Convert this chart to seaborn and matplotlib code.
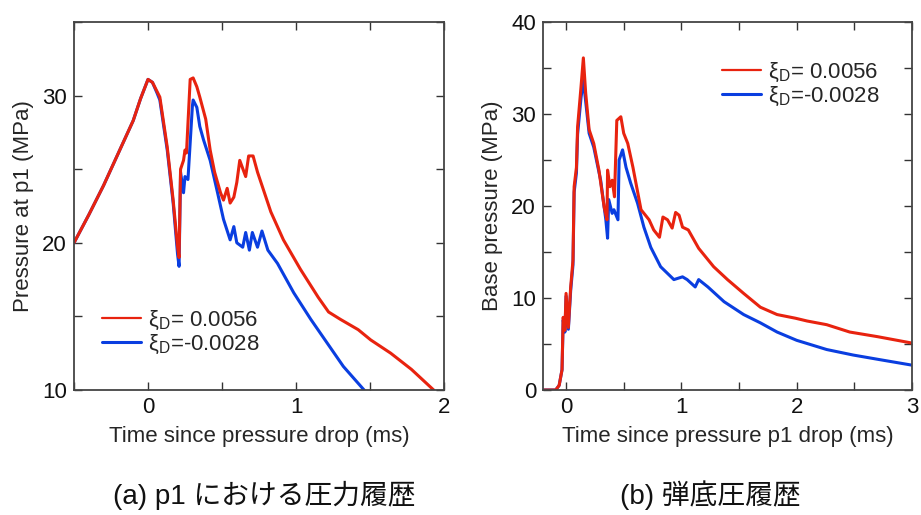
import matplotlib
matplotlib.use("Agg")
import matplotlib.pyplot as plt
import seaborn as sns
from matplotlib.ticker import MultipleLocator
from matplotlib.lines import Line2D

# (a) pressure at gauge p1, xi_D = 0.0056
p1_time_hi = [-0.5, -0.4, -0.3, -0.2, -0.1, -0.05, 0.0, 0.03, 0.06, 0.08, 0.13, 0.17,
              0.20, 0.21, 0.22, 0.24, 0.25, 0.26, 0.285, 0.305, 0.33, 0.35, 0.39, 0.42,
              0.45, 0.49, 0.51, 0.535, 0.555, 0.58, 0.60, 0.62, 0.66, 0.68, 0.71, 0.74,
              0.78, 0.83, 0.915, 1.03, 1.15, 1.22, 1.30, 1.42, 1.505, 1.64, 1.78, 1.93]
p1_pres_hi = [20.0, 21.9, 23.9, 26.1, 28.3, 29.8, 31.1, 30.9, 30.3, 29.9, 26.5, 22.9,
              19.7, 19.0, 25.0, 25.6, 26.3, 26.1, 31.1, 31.2, 30.6, 29.9, 28.4, 26.3,
              24.8, 23.4, 22.9, 23.7, 22.7, 23.1, 24.1, 25.6, 24.5, 25.9, 25.9, 24.8,
              23.6, 22.1, 20.2, 18.2, 16.3, 15.3, 14.8, 14.1, 13.4, 12.5, 11.4, 10.0]

# (a) pressure at gauge p1, xi_D = -0.0028
p1_time_lo = [-0.5, -0.4, -0.3, -0.2, -0.1, -0.05, 0.0, 0.03, 0.06, 0.08, 0.13, 0.17,
              0.20, 0.21, 0.22, 0.24, 0.25, 0.27, 0.30, 0.305, 0.33, 0.35, 0.375, 0.42,
              0.47, 0.51, 0.555, 0.58, 0.60, 0.64, 0.66, 0.685, 0.705, 0.74, 0.77, 0.81,
              0.875, 0.985, 1.10, 1.21, 1.32, 1.46]
p1_pres_lo = [20.0, 21.9, 23.9, 26.1, 28.3, 29.8, 31.1, 30.9, 30.2, 29.7, 26.3, 22.7,
              19.2, 18.4, 24.8, 23.4, 24.5, 24.3, 29.3, 29.7, 29.2, 27.9, 27.0, 25.6,
              23.4, 21.6, 20.2, 21.1, 20.0, 19.7, 20.7, 19.5, 20.7, 19.7, 20.8, 19.5,
              18.6, 16.6, 14.8, 13.2, 11.6, 10.0]

# (b) base pressure, xi_D = 0.0056
base_time_hi = [-0.19, -0.09, -0.06, -0.035, -0.025, -0.01, 0.0, 0.02, 0.04, 0.06, 0.07,
                0.09, 0.10, 0.13, 0.15, 0.17, 0.20, 0.24, 0.285, 0.33, 0.355, 0.36, 0.38,
                0.40, 0.42, 0.44, 0.475, 0.50, 0.535, 0.58, 0.65, 0.72, 0.76, 0.81, 0.84,
                0.88, 0.92, 0.95, 0.98, 1.01, 1.06, 1.15, 1.28, 1.40, 1.54, 1.685, 1.83,
                1.99, 2.09, 2.26, 2.46, 2.70, 3.0]
base_pres_hi = [0.0, 0.0, 0.5, 2.2, 7.9, 6.5, 10.5, 6.8, 11.2, 14.1, 22.1,
                24.2, 28.6, 33.0, 36.1, 32.3, 28.3, 26.8, 23.9, 19.9, 18.5, 23.9, 22.1,
                22.8, 21.0, 29.3, 29.7, 27.9, 26.8, 24.2, 19.6, 18.5, 17.4, 16.6, 18.8,
                18.5, 17.6, 19.3, 19.0, 17.7, 17.4, 15.4, 13.4, 12.0, 10.5, 9.0, 8.2,
                7.8, 7.5, 7.1, 6.3, 5.8, 5.1]

# (b) base pressure, xi_D = -0.0028
base_time_lo = [-0.19, -0.09, -0.06, -0.035, -0.025, -0.01, 0.0, 0.02, 0.04, 0.06, 0.07,
                0.09, 0.10, 0.13, 0.15, 0.20, 0.24, 0.30, 0.345, 0.36, 0.37, 0.40, 0.415,
                0.45, 0.46, 0.49, 0.52, 0.56, 0.62, 0.675, 0.735, 0.82, 0.935, 1.01, 1.05,
                1.12, 1.15, 1.23, 1.37, 1.54, 1.685, 1.83, 2.0, 2.26, 2.49, 2.72, 3.0]
base_pres_lo = [0.0, 0.0, 0.5, 2.2, 7.6, 6.3, 10.2, 6.6, 10.8, 13.6, 21.5,
                23.6, 27.8, 31.8, 33.7, 27.9, 26.4, 22.8, 18.5, 16.5, 20.7, 19.2, 19.6,
                18.5, 25.0, 26.1, 24.2, 22.5, 20.3, 17.7, 15.5, 13.4, 12.0, 12.3, 12.0,
                11.2, 12.0, 11.2, 9.6, 8.2, 7.3, 6.3, 5.4, 4.4, 3.8, 3.3, 2.7]

series_labels = ["ξ$_\\mathrm{D}$= 0.0056", "ξ$_\\mathrm{D}$=-0.0028"]
series_colors = ["#e8230f", "#0a3ee0"]

sns.set_theme(style="ticks")
plt.rcParams["font.family"] = ["Liberation Sans", "Noto Sans CJK JP", "DejaVu Sans"]
plt.rcParams["mathtext.fontset"] = "custom"
plt.rcParams["mathtext.rm"] = "Liberation Sans"

fig = plt.figure(figsize=(9.21, 5.15), dpi=100)
ax_a = fig.add_axes([74 / 921, 125 / 515, 370 / 921, 368 / 515])
ax_b = fig.add_axes([543 / 921, 125 / 515, 369 / 921, 368 / 515])

lw = 2.2
for ax, (t_hi, p_hi, t_lo, p_lo) in (
    (ax_a, (p1_time_hi, p1_pres_hi, p1_time_lo, p1_pres_lo)),
    (ax_b, (base_time_hi, base_pres_hi, base_time_lo, base_pres_lo)),
):
    sns.lineplot(x=t_lo, y=p_lo, ax=ax, color=series_colors[1], lw=lw,
                 estimator=None, sort=False)
    sns.lineplot(x=t_hi, y=p_hi, ax=ax, color=series_colors[0], lw=lw,
                 estimator=None, sort=False)

ax_a.set_xlim(-0.5, 2)
ax_a.set_ylim(10, 35)
ax_a.yaxis.set_major_locator(MultipleLocator(10))
ax_a.yaxis.set_minor_locator(MultipleLocator(5))
ax_a.set_xlabel("Time since pressure drop (ms)")
ax_a.set_ylabel("Pressure at p1 (MPa)")

ax_b.set_xlim(-0.2, 3)
ax_b.set_ylim(0, 40)
ax_b.yaxis.set_major_locator(MultipleLocator(10))
ax_b.yaxis.set_minor_locator(MultipleLocator(5))
ax_b.set_xlabel("Time since pressure p1 drop (ms)")
ax_b.set_ylabel("Base pressure (MPa)")

handles = [Line2D([], [], color=series_colors[0], lw=1.6),
           Line2D([], [], color=series_colors[1], lw=2.2)]

for ax, anchor in ((ax_a, (0.076, 0.157)), (ax_b, (0.485, 0.83))):
    ax.xaxis.set_major_locator(MultipleLocator(1))
    ax.xaxis.set_minor_locator(MultipleLocator(0.5))
    ax.tick_params(which="both", direction="in", top=True, right=True,
                   length=6, width=1.0, color="#333333", labelsize=16, pad=5,
                   labelcolor="#111111")
    for sp in ax.spines.values():
        sp.set_visible(True)
        sp.set_color("#444444")
        sp.set_linewidth(1.3)
    ax.xaxis.label.set_size(16)
    ax.yaxis.label.set_size(16)
    ax.xaxis.labelpad = 6
    ax.yaxis.labelpad = 6
    ax.legend(handles, series_labels, loc="center left", bbox_to_anchor=anchor,
              frameon=False, fontsize=16, handlelength=1.75, handletextpad=0.3,
              labelspacing=0.05, borderpad=0, borderaxespad=0)

fig.text(264 / 921, 20 / 515, "(a) p1 における圧力履歴", ha="center", va="center",
         fontsize=20, color="#111111")
fig.text(710 / 921, 20 / 515, "(b) 弾底圧履歴", ha="center", va="center",
         fontsize=20, color="#111111")

fig.savefig("out.png", dpi=100)
